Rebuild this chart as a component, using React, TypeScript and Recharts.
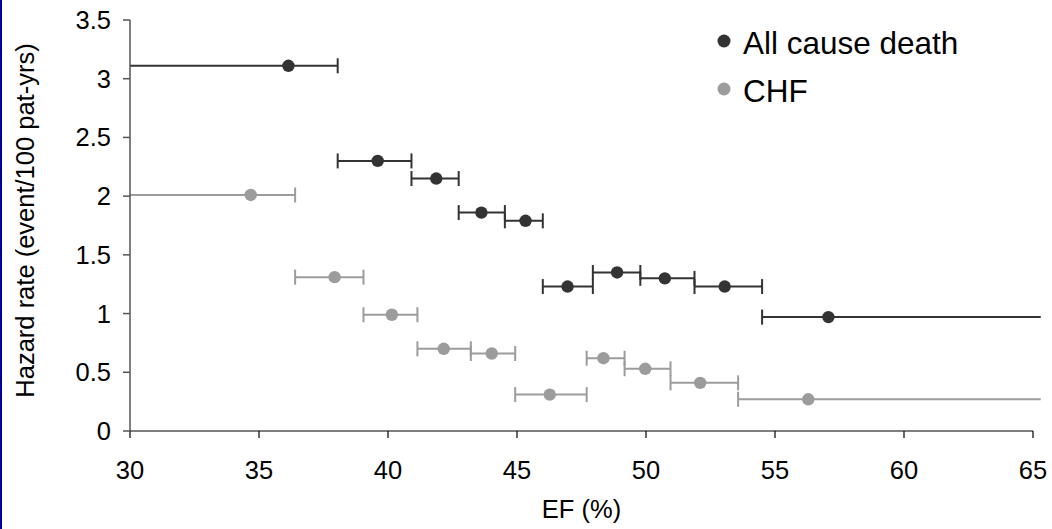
import React from 'react';
import { ScatterChart, Scatter, XAxis, YAxis, ReferenceLine, Legend } from 'recharts';

// All cause death
const deathEF = [36.14, 39.6, 41.87, 43.62, 45.33, 46.96, 48.88, 50.73, 53.05, 57.07];
const deathRate = [3.11, 2.3, 2.15, 1.86, 1.79, 1.23, 1.35, 1.3, 1.23, 0.97];
const deathLow = [30, 38.05, 40.91, 42.74, 44.53, 46.0, 47.94, 49.78, 51.88, 54.5];
const deathHigh = [38.05, 40.91, 42.74, 44.53, 46.0, 47.94, 49.78, 51.88, 54.5, 65.3];

// CHF
const chfEF = [34.68, 37.93, 40.15, 42.16, 44.02, 46.27, 48.35, 49.97, 52.1, 56.29];
const chfRate = [2.01, 1.31, 0.99, 0.7, 0.66, 0.31, 0.62, 0.53, 0.41, 0.27];
const chfLow = [30, 36.4, 39.05, 41.14, 43.21, 44.93, 47.7, 49.17, 50.95, 53.57];
const chfHigh = [36.4, 39.05, 41.14, 43.21, 44.93, 47.7, 49.17, 50.95, 53.57, 65.3];

const xTicks = [30, 35, 40, 45, 50, 55, 60, 65];
const yTicks = [0, 0.5, 1, 1.5, 2, 2.5, 3, 3.5];
const seriesNames = ['All cause death', 'CHF'];

const X_MIN = 30;
const X_MAX = 65;

const DARK = '#333333';
const LIGHT = '#9c9c9c';
const FONT = '"Liberation Sans", Arial, sans-serif';

const toPoints = (xs: number[], ys: number[]) => xs.map((x, i) => ({ x, y: ys[i] }));

const toCaps = (lo: number[], hi: number[], ys: number[]) => {
  const caps: { x: number; y: number }[] = [];
  ys.forEach((y, i) => {
    if (lo[i] > X_MIN) caps.push({ x: lo[i], y });
    if (hi[i] < X_MAX) caps.push({ x: hi[i], y });
  });
  return caps;
};

const deathPoints = toPoints(deathEF, deathRate);
const chfPoints = toPoints(chfEF, chfRate);
const deathCaps = toCaps(deathLow, deathHigh, deathRate);
const chfCaps = toCaps(chfLow, chfHigh, chfRate);

const makeDot = (color: string) => (props: any) => (
  <circle cx={props.cx} cy={props.cy} r={6.2} fill={color} stroke="none" />
);

const makeCap = (color: string) => (props: any) => (
  <line x1={props.cx} x2={props.cx} y1={props.cy - 7.5} y2={props.cy + 7.5} stroke={color} strokeWidth={2} />
);

const YLabel = (props: any) => {
  const vb = props.viewBox || { x: 0, y: 20, width: 130, height: 411 };
  const cx = vb.x + 34;
  const cy = vb.y + vb.height / 2 - 5;
  return (
    <text
      x={cx}
      y={cy}
      transform={`rotate(-90 ${cx} ${cy})`}
      textAnchor="middle"
      fontSize={25.5}
      fill="#000"
      fontFamily={FONT}
    >
      Hazard rate (event/100 pat-yrs)
    </text>
  );
};

const LegendContent = () => (
  <svg width={340} height={110} style={{ display: 'block' }}>
    {seriesNames.map((name, i) => (
      <g key={name}>
        <circle cx={24} cy={41 + i * 48} r={6.5} fill={i === 0 ? DARK : LIGHT} />
        <text x={43} y={54 + i * 48} fontSize={31.5} fill="#000" fontFamily={FONT}>
          {name}
        </text>
      </g>
    ))}
  </svg>
);

export default function App() {
  return (
    <div style={{ position: 'absolute', left: 0, top: 0, width: 1052, height: 529, background: '#fff', overflow: 'hidden' }}>
      <div style={{ position: 'absolute', left: 0, top: 0, width: 2, height: 529, background: '#0000a0' }} />
      <ScatterChart width={1052} height={529} margin={{ top: 20, right: 19, bottom: 0, left: 0 }} style={{ fontFamily: FONT }}>
        <XAxis
          type="number"
          dataKey="x"
          domain={[X_MIN, X_MAX]}
          ticks={xTicks}
          interval={0}
          height={98}
          tickSize={7}
          tickMargin={23}
          axisLine={{ stroke: '#000', strokeWidth: 1.2 }}
          tickLine={{ stroke: '#000', strokeWidth: 1.2 }}
          tick={{ fontSize: 25.5, fill: '#000', fontFamily: FONT }}
          label={{ value: 'EF (%)', position: 'insideBottom', offset: 11, fontSize: 25.5, fill: '#000', fontFamily: FONT }}
        />
        <YAxis
          type="number"
          dataKey="y"
          domain={[0, 3.5]}
          ticks={yTicks}
          interval={0}
          width={130}
          tickSize={7}
          tickMargin={12}
          axisLine={{ stroke: '#555', strokeWidth: 1.5 }}
          tickLine={{ stroke: '#555', strokeWidth: 1.5 }}
          tick={{ fontSize: 25.5, fill: '#000', fontFamily: FONT }}
          label={<YLabel />}
        />
        {chfRate.map((y, i) => (
          <ReferenceLine
            key={`chf-bar-${i}`}
            segment={[{ x: chfLow[i], y }, { x: chfHigh[i], y }]}
            stroke={LIGHT}
            strokeWidth={2}
            ifOverflow="visible"
          />
        ))}
        {deathRate.map((y, i) => (
          <ReferenceLine
            key={`death-bar-${i}`}
            segment={[{ x: deathLow[i], y }, { x: deathHigh[i], y }]}
            stroke={DARK}
            strokeWidth={2}
            ifOverflow="visible"
          />
        ))}
        <Scatter data={chfCaps} shape={makeCap(LIGHT)} isAnimationActive={false} legendType="none" />
        <Scatter data={deathCaps} shape={makeCap(DARK)} isAnimationActive={false} legendType="none" />
        <Scatter name="CHF" data={chfPoints} shape={makeDot(LIGHT)} isAnimationActive={false} />
        <Scatter name="All cause death" data={deathPoints} shape={makeDot(DARK)} isAnimationActive={false} />
        <Legend
          layout="vertical"
          align="center"
          verticalAlign="middle"
          content={<LegendContent />}
          wrapperStyle={{ left: 700, top: 0, width: 340, height: 110 }}
        />
      </ScatterChart>
    </div>
  );
}
